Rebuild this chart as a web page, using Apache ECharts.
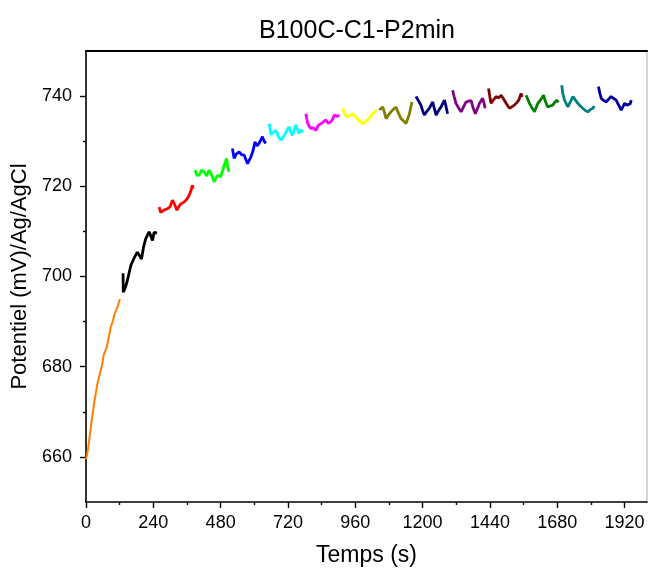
<!DOCTYPE html>
<html><head><meta charset="utf-8">
<script src="https://cdn.jsdelivr.net/npm/echarts@6/dist/echarts.min.js"></script>
<style>html,body{margin:0;padding:0;background:#fff}#c{width:648px;height:572px}</style>
</head><body><div id="c"></div>
<script>
const xTicks = [0,240,480,720,960,1200,1440,1680,1920];
const xMinor = [120,360,600,840,1080,1320,1560,1800];
const yTicks = [660,680,700,720,740];
const yMinor = [670,690,710,730];
const segColors = ['#FF8000','#000000','#FF0000','#00FF00','#0000FF','#00FFFF','#FF00FF','#FFFF00','#808000','#000080','#800080','#800000','#008000','#008080','#0000A0'];

const seg01 = [[0,659.5],[4,660.5],[10,663],[17,666.5],[28,671.5],[40,676],[46,677.6],[58,680.6],[64,682.8],[74,684.3],[88,688.7],[95,690],[102,691.7],[112,693.2],[121,695]];
const seg02 = [[132,700.7],[133,696.5],[140,697.5],[147,699],[160,702.5],[171,704],[183,705.4],[190,705],[198,703.9],[205,706.5],[213,708.4],[225,709.9],[231,709],[237,708],[243,709.8],[249,709.5],[253,709.6]];
const seg03 = [[261,715.4],[266,714.2],[272,713.9],[280,714.8],[290,715],[300,715.5],[308,716.9],[316,716],[324,714.7],[330,715.4],[338,716.1],[350,716.5],[360,717.2],[368,718],[375,719.2],[379,720.2],[382,719.5]];
const seg04 = [[389,723.6],[395,722.5],[403,722.4],[412,723.6],[421,723.2],[430,722.3],[439,723.6],[448,722.5],[457,721],[463,721.8],[469,722.4],[480,722.1],[487,723.5],[493,724.7],[501,726.2],[506,724],[510,723.2]];
const seg05 = [[522,728.4],[528,726.2],[536,727.2],[546,727.6],[555,727],[564,726.9],[576,725],[588,726.5],[596,728],[602,729.8],[610,729],[617,729.5],[629,731],[635,730],[641,729.5]];
const seg06 = [[653,733.9],[659,731.5],[665,731.7],[677,732.4],[686,731],[695,730.2],[700,729.8],[707,731.3],[715,732.2],[724,733.2],[730,732],[736,731.3],[748,733.6],[754,732.6],[760,731.7],[766,732.5],[772,732]];
const seg07 = [[784,736.1],[790,734],[796,733.3],[802,732.8],[810,733],[820,732.4],[828,733.5],[838,733.9],[846,734.3],[855,734.7],[863,734],[873,734.3],[880,735],[885,735.8],[895,735.5],[903,735.8]];
const seg08 = [[915,737.3],[922,736],[933,735.4],[942,735.8],[950,736.1],[958,735.6],[968,735],[976,734.4],[986,733.9],[995,734.3],[1004,734.7],[1012,735.3],[1022,736.1],[1030,736.5],[1034,736.9]];
const seg09 = [[1046,736.9],[1052,737.2],[1058,737.6],[1064,736.4],[1070,735],[1078,735.8],[1087,736.5],[1096,737.1],[1105,737.6],[1114,736.2],[1123,735],[1132,734.5],[1141,733.9],[1147,735],[1153,736.1],[1158,737.5],[1162,738.7]];
const seg10 = [[1176,739.9],[1185,739],[1194,738],[1200,736.8],[1206,735.8],[1215,736.6],[1224,737.3],[1230,738],[1236,738.7],[1242,737.2],[1248,735.8],[1257,736.8],[1266,737.6],[1272,738.4],[1278,739.1],[1284,737.6],[1289,736.1]];
const seg11 = [[1307,741.3],[1313,739.8],[1319,738.4],[1328,737.4],[1337,736.5],[1346,737.6],[1355,738.7],[1364,738.9],[1373,739],[1380,737.4],[1388,736.1],[1396,737.3],[1403,738.4],[1414,739.5],[1419,738.4],[1423,737.3]];
const seg12 = [[1435,741.7],[1440,739.8],[1444,738.4],[1453,739.2],[1462,739.9],[1471,739.6],[1480,740.2],[1488,739.4],[1495,738.7],[1502,738],[1510,737.3],[1518,737.6],[1527,738],[1535,738.5],[1543,739.1],[1551,740.6],[1555,739.8]];
const seg13 = [[1569,740.2],[1575,739.3],[1581,738.4],[1590,737.4],[1599,736.5],[1605,737.5],[1611,738.4],[1621,739.2],[1631,740.2],[1638,738.8],[1646,737.6],[1655,737.8],[1664,738],[1671,738.6],[1678,739.1],[1684,738.6]];
const seg14 = [[1696,742.4],[1700,740.5],[1706,739.1],[1712,738.3],[1718,737.6],[1727,738.8],[1736,739.9],[1745,739.1],[1753,738.4],[1762,737.8],[1771,737.3],[1780,736.8],[1789,736.5],[1798,737],[1807,737.3],[1812,737.8]];
const seg15 = [[1827,742.1],[1832,740.6],[1837,739.5],[1846,739],[1855,738.7],[1863,739.3],[1872,739.9],[1881,739.5],[1890,739.1],[1899,738],[1908,736.9],[1914,737.6],[1920,738.4],[1928,738],[1935,737.6],[1940,738.3],[1944,739.1]];
const segments = [seg01,seg02,seg03,seg04,seg05,seg06,seg07,seg08,seg09,seg10,seg11,seg12,seg13,seg14,seg15];

const FONT = '"Liberation Sans", Arial, sans-serif';
const chart = echarts.init(document.getElementById('c'), null, {renderer:'canvas'});
const fmt = v => String(v);
const noSplit = {splitLine:{show:false}};
chart.setOption({
  animation:false,
  backgroundColor:'#fff',
  title:{text:'B100C-C1-P2min',left:352,top:14,textAlign:'center',
    textStyle:{fontFamily:FONT,fontSize:25,fontWeight:'normal',color:'#000'}},
  grid:{left:86,right:1,top:51,bottom:69,show:false},
  xAxis:[
    Object.assign({type:'value',min:0,max:2000,position:'bottom',
      name:'Temps (s)',nameLocation:'middle',nameGap:42,
      nameTextStyle:{fontFamily:FONT,fontSize:23,color:'#000'},
      axisLine:{show:true,onZero:false,lineStyle:{color:'#000',width:1.6}},
      axisTick:{show:true,inside:false,length:6,lineStyle:{color:'#000',width:1.4},customValues:xTicks},
      axisLabel:{show:true,margin:12,fontFamily:FONT,fontSize:18,color:'#000',customValues:xTicks,formatter:fmt}},noSplit),
    Object.assign({type:'value',min:0,max:2000,position:'bottom',
      axisLine:{show:false},
      axisTick:{show:true,length:3,lineStyle:{color:'#000',width:1.4},customValues:xMinor},
      axisLabel:{show:false,customValues:xMinor}},noSplit),
    Object.assign({type:'value',min:0,max:2000,position:'top',
      axisLine:{show:true,onZero:false,lineStyle:{color:'#000',width:2}},
      axisTick:{show:false},axisLabel:{show:false}},noSplit)
  ],
  yAxis:[
    Object.assign({type:'value',min:650,max:750,position:'left',
      name:'Potentiel (mV)/Ag/AgCl',nameLocation:'middle',nameGap:54,
      nameTextStyle:{fontFamily:FONT,fontSize:22,color:'#000'},
      axisLine:{show:true,onZero:false,lineStyle:{color:'#000',width:1.6}},
      axisTick:{show:true,length:6,lineStyle:{color:'#000',width:1.4},customValues:yTicks},
      axisLabel:{show:true,margin:14,fontFamily:FONT,fontSize:18,color:'#000',customValues:yTicks,formatter:fmt}},noSplit),
    Object.assign({type:'value',min:650,max:750,position:'left',
      axisLine:{show:false},
      axisTick:{show:true,length:3,lineStyle:{color:'#000',width:1.4},customValues:yMinor},
      axisLabel:{show:false,customValues:yMinor}},noSplit),
    Object.assign({type:'value',min:650,max:750,position:'right',
      axisLine:{show:true,onZero:false,lineStyle:{color:'#c8c8c8',width:1.5}},
      axisTick:{show:false},axisLabel:{show:false}},noSplit)
  ],
  series: segments.map((d,i)=>({
    type:'line',data:d,xAxisIndex:0,yAxisIndex:0,showSymbol:false,symbol:'none',
    lineStyle:{color:segColors[i],width:i===0?2:2.8},itemStyle:{color:segColors[i]}
  }))
});
</script></body></html>
